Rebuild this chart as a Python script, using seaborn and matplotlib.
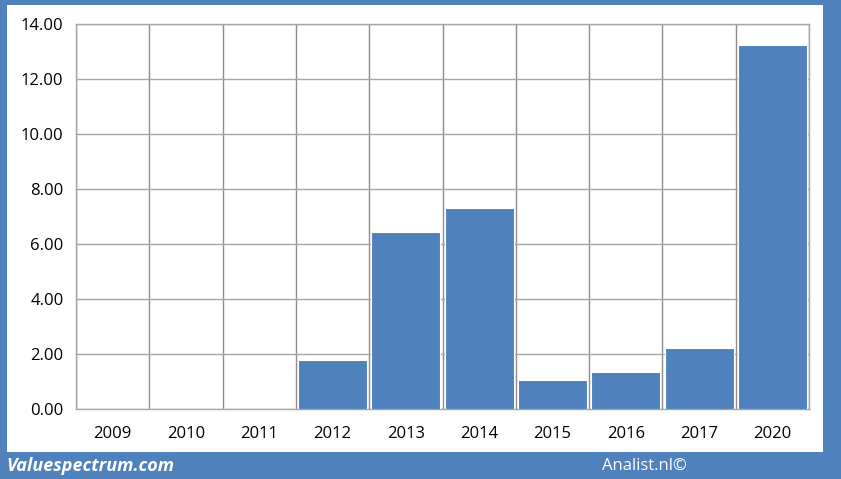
import numpy as np
import pandas as pd
import matplotlib
matplotlib.use("Agg")
import matplotlib.pyplot as plt
import seaborn as sns
from matplotlib.patches import Rectangle
from matplotlib.ticker import FixedLocator

# chart data
years = ['2009', '2010', '2011', '2012', '2013', '2014', '2015', '2016', '2017', '2020']
values = [0.0, 0.0, 0.0, 1.80, 6.44, 7.31, 1.06, 1.36, 2.22, 13.24]
y_ticks = [0, 2, 4, 6, 8, 10, 12, 14]

df = pd.DataFrame({'year': years, 'value': values})

sns.set_style('white')
plt.rcParams['font.family'] = ['Open Sans', 'DejaVu Sans']

blue = '#4F81BD'
grid_col = '#A6A6A6'

fig = plt.figure(figsize=(8.41, 4.79), dpi=100, facecolor=blue)
# white panel inside the blue frame
fig.patches.append(Rectangle((7 / 841, 27 / 479), 816 / 841, 447 / 479,
                             transform=fig.transFigure, facecolor='white',
                             edgecolor='none', zorder=-10))

ax = fig.add_axes([76 / 841, 70 / 479, 733 / 841, 385 / 479])
ax.set_facecolor('none')

sns.barplot(data=df, x='year', y='value', color=blue, saturation=1,
            width=0.94, edgecolor='white', linewidth=0.8, ax=ax, zorder=3)

ax.set_xlim(-0.5, len(years) - 0.5)
ax.set_ylim(0, 14)
ax.set_yticks(y_ticks)
ax.set_yticklabels([f'{v:.2f}' for v in y_ticks])
ax.xaxis.set_minor_locator(FixedLocator(np.arange(-0.5, len(years), 1)))

ax.grid(axis='y', which='major', color=grid_col, linewidth=1, zorder=0)
ax.grid(axis='x', which='minor', color='#8C8C8C', linewidth=1, zorder=0)
ax.set_axisbelow(True)

ax.tick_params(axis='x', which='major', length=0, pad=12, labelsize=12, labelcolor='black')
ax.tick_params(axis='x', which='minor', length=6, color='#8C8C8C', direction='out')
ax.tick_params(axis='y', length=5, color='#8C8C8C', direction='out', labelsize=12,
               pad=4, labelcolor='black')
for s in ax.spines.values():
    s.set_color(grid_col)
    s.set_linewidth(1)
ax.set_xlabel('')
ax.set_ylabel('')

fig.text(6 / 841, 13 / 479, 'Valuespectrum.com', color='white', fontsize=13,
         fontweight='bold', fontstyle='italic', va='center', ha='left')
fig.text(644 / 841, 13 / 479, 'Analist.nl©', color='white', fontsize=12,
         va='center', ha='center')

fig.savefig('out.png', dpi=100, facecolor=blue)
